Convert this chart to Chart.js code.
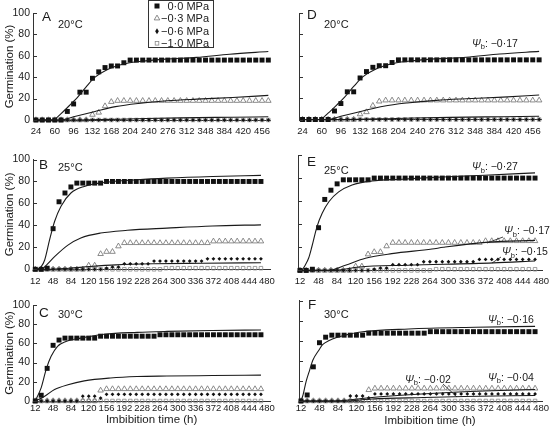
<!DOCTYPE html>
<html>
<head>
<meta charset="utf-8">
<script src="https://cdn.jsdelivr.net/npm/chart.js@4.4.1/dist/chart.umd.min.js"></script>
<style>
  html, body { margin: 0; padding: 0; background: #fff; }
  #fig { position: relative; width: 550px; height: 431px; overflow: hidden; background: #fff; }
  #fig canvas { position: absolute; }
</style>
</head>
<body>
<div id="fig"></div>
<script>
const FONT = '"Liberation Sans", Arial, Helvetica, sans-serif';
const NARROW = '"Liberation Sans Narrow", "Arial Narrow", "Liberation Sans", Arial, sans-serif';
const INK = '#1a1a1a';

// series names (legend)
const seriesNames = ['0·0 MPa', '−0·3 MPa', '−0·6 MPa', '−1·0 MPa'];

// tick labels
const xTicks20 = [24, 60, 96, 132, 168, 204, 240, 276, 312, 348, 384, 420, 456];
const xTicks = [12, 48, 84, 120, 156, 192, 228, 264, 300, 336, 372, 408, 444, 480];
const yTicks = [0, 20, 40, 60, 80, 100];

// observation times (h)
const hours20 = [24, 36, 48, 60, 72, 84, 96, 108, 120, 132, 144, 156, 168, 180, 192, 204, 216, 228, 240,
  252, 264, 276, 288, 300, 312, 324, 336, 348, 360, 372, 384, 396, 408, 420, 432, 444, 456, 468];
const hours = [12, 24, 36, 48, 60, 72, 84, 96, 108, 120, 132, 144, 156, 168, 180, 192, 204, 216, 228, 240,
  252, 264, 276, 288, 300, 312, 324, 336, 348, 360, 372, 384, 396, 408, 420, 432, 444, 456, 468];

// observed germination (%) at 20 C
const sq20 = [0, 0, 0, 0, 0, 8, 15, 26, 26, 39, 45, 49, 50.5, 50.5, 53.5,
  56, 56, 56, 56, 56, 56, 56, 56, 56, 56, 56, 56, 56, 56, 56, 56, 56, 56, 56, 56, 56, 56, 56];
const tri20 = [0, 0, 0, 0, 0, 0, 0, 0, 0, 5, 7, 13, 17,
  18, 18, 18, 18, 18, 18, 18, 18, 18, 18, 18, 18, 18, 18, 18, 18, 18, 18, 18, 18, 18, 18, 18, 18, 18];
const dia20 = [0, 0, 0, 0, 0, 0, 0, 0, 0, 0, 0, 0, 0, 0, 0, 0, 0, 0, 0,
  0, 0, 0, 0, 0, 0, 0, 0, 0, 0, 0, 0, 0, 0, 0, 0, 0, 0, 0];
const opn20 = [0, 0, 0, 0, 0, 0, 0, 0, 0, 0, 0, 0, 0, 0, 0, 0, 0, 0, 0,
  0, 0, 0, 0, 0, 0, 0, 0, 0, 0, 0, 0, 0, 0, 0, 0, 0, 0, 0];

// observed germination (%) at 25 C
const sq25 = [0, 0, 1, 37, 61.5, 69.5, 75, 78.5, 78.5, 78.5, 78.5, 78.5,
  80, 80, 80, 80, 80, 80, 80, 80, 80, 80, 80, 80, 80, 80, 80, 80, 80, 80, 80, 80, 80, 80, 80, 80, 80, 80, 80];
const tri25 = [0, 0, 0, 0, 0, 0, 0, 0, 0, 3.5, 3.5, 14, 16, 16, 21,
  24, 24, 24, 24, 24, 24, 24, 24, 24, 24, 24, 24, 24, 24, 24,
  25.5, 25.5, 25.5, 25.5, 25.5, 25.5, 25.5, 25.5, 25.5];
const dia25 = [0, 0, 0, 0, 0, 0, 0, 0, 0, 0, 0, 0, 1, 2, 2,
  5, 5, 5, 5, 5, 7.5, 7.5, 7.5, 7.5, 7.5, 7.5, 7.5, 7.5, 7.5,
  9.5, 9.5, 9.5, 9.5, 9.5, 9.5, 9.5, 9.5, 9.5, 9.5];
const opn25 = [0, 0, 0, 0, 0, 0, 0, 0, 0, 0, 0, 0, 0, 0, 0, 0, 0, 0, 0, 0, 0, 0,
  1, 1, 1, 1, 1, 1, 1, 1, 1, 1, 1, 1, 1, 1, 1, 1, 1];

// observed germination (%) at 30 C
const sq30 = [0, 6, 34, 58, 63.5, 65.5, 65.5, 65.5, 65.5, 65.5, 65.5,
  67.5, 67.5, 67.5, 67.5, 67.5, 67.5, 67.5, 67.5, 67.5, 67.5,
  69, 69, 69, 69, 69, 69, 69, 69, 69, 69, 69, 69, 69, 69, 69, 69, 69, 69];
const tri30 = [0, 0, 0, 0, 0, 0, 0, 0, 0, 0, 0, 11,
  12.5, 12.5, 12.5, 12.5, 12.5, 12.5, 12.5, 12.5, 12.5, 12.5, 12.5, 12.5, 12.5, 12.5,
  12.5, 12.5, 12.5, 12.5, 12.5, 12.5, 12.5, 12.5, 12.5, 12.5, 12.5, 12.5, 12.5];
const dia30 = [0, 0, 0, 0, 0, 0, 0, 0, 5, 5, 5, 3,
  7, 7, 7, 7, 7, 7, 7, 7, 7, 7, 7, 7, 7, 7, 7, 7, 7, 7, 7, 7, 7, 7, 7, 7, 7, 7, 7];
const opn30 = [0, 0, 0, 0, 0, 0, 0, 0, 0, 0, 0, 0, 0, 0, 0, 0, 0, 0, 0, 0,
  0, 0, 0, 0, 0, 0, 0, 0, 0, 0, 0, 0, 0, 0, 0, 0, 0, 0, 0];

// fitted curves (h, %)
const fitA0h = [24, 56, 72, 92, 103, 120, 137, 160, 194, 237, 275, 331, 394, 468];
const fitA0 = [0, 0, 6, 15.5, 21, 31, 40, 47, 52.5, 55.5, 57, 58.5, 61.5, 64];
const fitA1h = [24, 69, 100, 137, 176, 220, 275, 331, 400, 468];
const fitA1 = [0, 0, 3.5, 8, 12.5, 15.5, 18, 19.5, 21, 23];
const fitA2h = [24, 100, 200, 300, 400, 468];
const fitA2 = [0, 0, 1, 2, 2.6, 3];

const fitB0h = [12, 18, 24, 31, 41, 51, 64, 84, 111, 151, 218, 278, 370, 468];
const fitB0 = [0, 0.5, 2.5, 8.5, 27, 43.5, 57.5, 69.5, 75.5, 79, 81.5, 83, 84.5, 85.5];
const fitB1h = [12, 24, 36, 51, 78, 104, 144, 198, 278, 370, 468];
const fitB1 = [0, 0, 4.5, 11.5, 22, 28.5, 33, 35.5, 37.5, 39.5, 40.5];
const fitB2h = [12, 40, 80, 122, 175, 250, 350, 468];
const fitB2 = [0, 0, 1, 2.5, 4, 5, 5.5, 6];

const fitC0h = [12, 24, 34, 44, 57, 74, 104, 151, 218, 278, 370, 468];
const fitC0 = [0, 14, 33, 46.5, 57, 62, 65.5, 69.5, 71.5, 72.5, 73.5, 74];
const fitC1h = [12, 31, 51, 78, 111, 164, 218, 278, 370, 468];
const fitC1 = [0, 5, 12, 17, 21, 24, 25.5, 26, 26.5, 27];

const fitE0h = [12, 16, 22, 29, 35, 45, 55, 68, 87, 113, 152, 210, 268, 370, 468];
const fitE0 = [0, 0.5, 4.5, 11, 20.5, 38, 49.5, 59.5, 68, 74, 77.5, 79, 80.5, 82.5, 84.5];
const fitE1h = [12, 68, 100, 139, 190, 268, 290, 377, 468];
const fitE1 = [0, 0, 4.5, 10.5, 14.5, 18.5, 20, 24.5, 26];
const fitE2h = [12, 80, 126, 222, 387, 468];
const fitE2 = [0, 0, 3, 4.5, 6.5, 8.2];

const fitF0h = [12, 16, 22, 29, 35, 48, 54, 68, 80, 94, 125, 222, 352, 468];
const fitF0 = [0, 6, 19.5, 31, 40.5, 51.5, 56, 60.5, 63, 65, 68.4, 71.7, 73.4, 74.3];
const fitF1h = [12, 84, 130, 200, 300, 400, 468];
const fitF1 = [0, 0, 2.5, 5.5, 8.5, 10.5, 11.5];
const fitF2h = [12, 96, 150, 250, 330, 468];
const fitF2 = [0, 0, 2, 3.5, 4.5, 5.5];

Chart.defaults.font.family = FONT;
Chart.defaults.color = INK;

const markerStyles = [
  { pointStyle: 'rect', pointRadius: 3.5, pointBackgroundColor: '#111', pointBorderColor: '#111', pointBorderWidth: 0, order: 1 },
  { pointStyle: 'triangle', pointRadius: 3.2, pointBackgroundColor: 'rgba(0,0,0,0)', pointBorderColor: '#6f6f6f', pointBorderWidth: 0.8, order: 3 },
  { pointStyle: 'rectRot', pointRadius: 1.9, pointBackgroundColor: '#111', pointBorderColor: '#111', pointBorderWidth: 0, order: 2 },
  { pointStyle: 'rect', pointRadius: 2.5, pointBackgroundColor: 'rgba(0,0,0,0)', pointBorderColor: '#888', pointBorderWidth: 0.8, order: 4 }
];

function pts(xs, ys) {
  return xs.map((x, i) => ({ x: x, y: ys[i] }));
}

function obs(xs, ys, k) {
  return Object.assign({ type: 'line', data: pts(xs, ys), showLine: false, clip: false, label: seriesNames[k] }, markerStyles[k]);
}

function fit(xs, ys) {
  return {
    type: 'line', data: pts(xs, ys), showLine: true, borderColor: '#1a1a1a', borderWidth: 1.1,
    pointRadius: 0, cubicInterpolationMode: 'monotone', clip: false, order: 0
  };
}

function drawMarker(ctx, k, x, y) {
  ctx.save();
  if (k === 0) {
    ctx.fillStyle = '#111';
    ctx.fillRect(x - 2.5, y - 2.5, 5, 5);
  } else if (k === 1) {
    const r = 3.2;
    ctx.strokeStyle = '#6f6f6f'; ctx.lineWidth = 0.8;
    ctx.beginPath();
    ctx.moveTo(x, y - r); ctx.lineTo(x + r * 0.866, y + r / 2); ctx.lineTo(x - r * 0.866, y + r / 2);
    ctx.closePath(); ctx.stroke();
  } else if (k === 2) {
    ctx.fillStyle = '#111';
    ctx.beginPath();
    ctx.moveTo(x, y - 3); ctx.lineTo(x + 1.8, y); ctx.lineTo(x, y + 3); ctx.lineTo(x - 1.8, y);
    ctx.closePath(); ctx.fill();
  } else {
    ctx.strokeStyle = '#888'; ctx.lineWidth = 0.8;
    ctx.strokeRect(x - 1.8, y - 1.8, 3.6, 3.6);
  }
  ctx.restore();
}

function drawLegend(ctx) {
  const rows = [6, 18.3, 31.3, 43.3];
  ctx.strokeStyle = '#333'; ctx.lineWidth = 1;
  ctx.strokeRect(148.5, 0.5, 65, 47);
  seriesNames.forEach((name, i) => {
    drawMarker(ctx, i, 157, rows[i]);
    ctx.font = '11px ' + FONT;
    ctx.fillStyle = INK;
    ctx.textAlign = 'right';
    ctx.textBaseline = 'middle';
    ctx.fillText(name, 209, rows[i] + 0.5);
  });
}

function drawNotes(chart, p) {
  const ctx = chart.ctx;
  const ys = chart.scales.y;
  const area = chart.chartArea;
  ctx.save();
  // inward y ticks
  ctx.strokeStyle = '#333'; ctx.lineWidth = 1;
  ys.ticks.forEach(t => {
    const py = Math.round(ys.getPixelForValue(t.value)) + 0.5;
    ctx.beginPath(); ctx.moveTo(area.left, py); ctx.lineTo(area.left + 4, py); ctx.stroke();
  });
  ctx.translate(-p.left, -p.top);
  ctx.fillStyle = INK; ctx.strokeStyle = INK;
  ctx.textBaseline = 'alphabetic';
  p.notes.forEach(n => {
    if (n.kind === 'letter') {
      ctx.font = '13.5px ' + FONT; ctx.textAlign = 'left';
      ctx.fillText(n.text, n.x, n.y);
    } else if (n.kind === 'temp') {
      ctx.font = '11px ' + FONT; ctx.textAlign = 'left';
      ctx.fillText(n.text, n.x, n.y);
    } else if (n.kind === 'title') {
      ctx.font = '11.5px ' + FONT; ctx.textAlign = 'center';
      ctx.fillText(n.text, n.x, n.y);
    } else if (n.kind === 'psi') {
      ctx.textAlign = 'left';
      ctx.font = 'italic 10.5px ' + FONT;
      ctx.fillText('Ψ', n.x, n.y);
      let w = ctx.measureText('Ψ').width;
      ctx.font = '7.5px ' + FONT;
      ctx.fillText('b', n.x + w, n.y + 2.5);
      w += ctx.measureText('b').width;
      ctx.font = '10.5px ' + FONT;
      ctx.fillText(': ' + n.text, n.x + w, n.y);
    } else if (n.kind === 'leader') {
      ctx.lineWidth = 0.8;
      ctx.beginPath(); ctx.moveTo(n.x1, n.y1); ctx.lineTo(n.x2, n.y2); ctx.stroke();
    }
  });
  if (p.legend) drawLegend(ctx);
  ctx.restore();
}

const obs20 = [sq20, tri20, dia20, opn20];
const obs25 = [sq25, tri25, dia25, opn25];
const obs30 = [sq30, tri30, dia30, opn30];

const panels = [
  { left: 0, top: 0, w: 275, h: 142, yW: 33, padT: 13, padR: 0, xH: 22, xmin: 18.4, xmax: 471.6,
    xt: xTicks20, tickPad: 6, yLabels: true, xTitle: false, hrs: hours20, obs: obs20,
    fits: [[fitA0h, fitA0], [fitA1h, fitA1], [fitA2h, fitA2]], legend: true,
    notes: [{ kind: 'letter', text: 'A', x: 42, y: 20.5 }, { kind: 'temp', text: '20°C', x: 58, y: 27.5 }] },
  { left: 275, top: 0, w: 275, h: 142, yW: 24, padT: 13, padR: 9, xH: 22.5, xmin: 17.4, xmax: 471.5,
    xt: xTicks20, tickPad: 6, yLabels: false, xTitle: false, hrs: hours20, obs: obs20,
    fits: [[fitA0h, fitA0], [fitA1h, fitA1], [fitA2h, fitA2]],
    notes: [{ kind: 'letter', text: 'D', x: 307, y: 19 }, { kind: 'temp', text: '20°C', x: 324, y: 27.5 },
      { kind: 'psi', text: '−0·17', x: 472, y: 46.5 }] },
  { left: 0, top: 145, w: 275, h: 145, yW: 33, padT: 14.5, padR: 3, xH: 20.7, xmin: 7.4, xmax: 486.7,
    xt: xTicks, tickPad: 6, yLabels: true, xTitle: false, hrs: hours, obs: obs25,
    fits: [[fitB0h, fitB0], [fitB1h, fitB1], [fitB2h, fitB2]],
    notes: [{ kind: 'letter', text: 'B', x: 39, y: 169 }, { kind: 'temp', text: '25°C', x: 58, y: 170.5 }] },
  { left: 275, top: 145, w: 275, h: 145, yW: 23, padT: 10, padR: 8, xH: 19.6, xmin: 8.1, xmax: 481.5,
    xt: xTicks, tickPad: 5, yLabels: false, xTitle: false, hrs: hours, obs: obs25,
    fits: [[fitE0h, fitE0], [fitE1h, fitE1], [fitE2h, fitE2]],
    notes: [{ kind: 'letter', text: 'E', x: 307, y: 165.5 }, { kind: 'temp', text: '25°C', x: 324, y: 173.5 },
      { kind: 'psi', text: '−0·27', x: 472, y: 170 },
      { kind: 'psi', text: '−0·17', x: 504, y: 234 }, { kind: 'leader', x1: 503, y1: 237, x2: 487, y2: 243 },
      { kind: 'psi', text: '−0·15', x: 502, y: 255 }, { kind: 'leader', x1: 501, y1: 257, x2: 492, y2: 263 }] },
  { left: 0, top: 290, w: 275, h: 141, yW: 33, padT: 15, padR: 3, xH: 30, xmin: 7.4, xmax: 486.7,
    xt: xTicks, tickPad: 2, yLabels: true, xTitle: true, hrs: hours, obs: obs30,
    fits: [[fitC0h, fitC0], [fitC1h, fitC1]],
    notes: [{ kind: 'letter', text: 'C', x: 39, y: 316.5 }, { kind: 'temp', text: '30°C', x: 58, y: 317.5 }] },
  { left: 275, top: 290, w: 275, h: 141, yW: 24, padT: 10.5, padR: 8, xH: 30, xmin: 8.1, xmax: 481.5,
    xt: xTicks, tickPad: 2, yLabels: false, xTitle: false, hrs: hours, obs: obs30,
    fits: [[fitF0h, fitF0], [fitF1h, fitF1], [fitF2h, fitF2]],
    notes: [{ kind: 'letter', text: 'F', x: 308, y: 308.5 }, { kind: 'temp', text: '30°C', x: 324, y: 317.5 },
      { kind: 'psi', text: '−0·16', x: 488, y: 322.5 },
      { kind: 'psi', text: '−0·02', x: 405, y: 382.5 }, { kind: 'leader', x1: 443, y1: 384, x2: 457, y2: 397 },
      { kind: 'psi', text: '−0·04', x: 488, y: 380.5 },
      { kind: 'title', text: 'Imbibition time (h)', x: 430, y: 423.5 }] }
];

const fig = document.getElementById('fig');

panels.forEach(p => {
  const canvas = document.createElement('canvas');
  canvas.width = p.w; canvas.height = p.h;
  canvas.style.left = p.left + 'px'; canvas.style.top = p.top + 'px';
  canvas.style.width = p.w + 'px'; canvas.style.height = p.h + 'px';
  fig.appendChild(canvas);

  const datasets = p.obs.map((ys, k) => obs(p.hrs, ys, k))
    .concat(p.fits.map(f => fit(f[0], f[1])));

  new Chart(canvas.getContext('2d'), {
    type: 'line',
    data: { datasets: datasets },
    options: {
      responsive: false,
      animation: false,
      devicePixelRatio: 1,
      layout: { padding: { left: 0, top: p.padT, right: p.padR, bottom: 0 } },
      plugins: { legend: { display: false }, tooltip: { enabled: false } },
      scales: {
        x: {
          type: 'linear', min: p.xmin, max: p.xmax,
          afterBuildTicks: s => { s.ticks = p.xt.map(v => ({ value: v })); },
          ticks: { autoSkip: false, maxRotation: 0, padding: p.tickPad, color: INK, font: { family: NARROW, size: 9.5 } },
          grid: { display: false, drawTicks: false },
          border: { display: true, color: '#333', width: 1 },
          title: { display: p.xTitle, text: 'Imbibition time (h)', color: INK, font: { size: 11.5 }, padding: { top: 0, bottom: 4 } },
          afterFit: s => { s.height = p.xH; s.paddingLeft = 0; s.paddingRight = 0; }
        },
        y: {
          min: 0, max: 100,
          afterBuildTicks: s => { s.ticks = yTicks.map(v => ({ value: v })); },
          ticks: { display: p.yLabels, padding: 3, color: INK, font: { size: 10.5 } },
          grid: { display: false, drawTicks: false },
          border: { display: true, color: '#333', width: 1 },
          title: { display: p.yLabels, text: 'Germination (%)', color: INK, font: { size: 11.5 }, padding: { top: 3, bottom: 0 } },
          afterFit: s => { s.width = p.yW; s.paddingTop = 0; s.paddingBottom = 0; }
        }
      }
    },
    plugins: [{ id: 'panelNotes', afterDraw: chart => drawNotes(chart, p) }]
  });
});
</script>
</body>
</html>
